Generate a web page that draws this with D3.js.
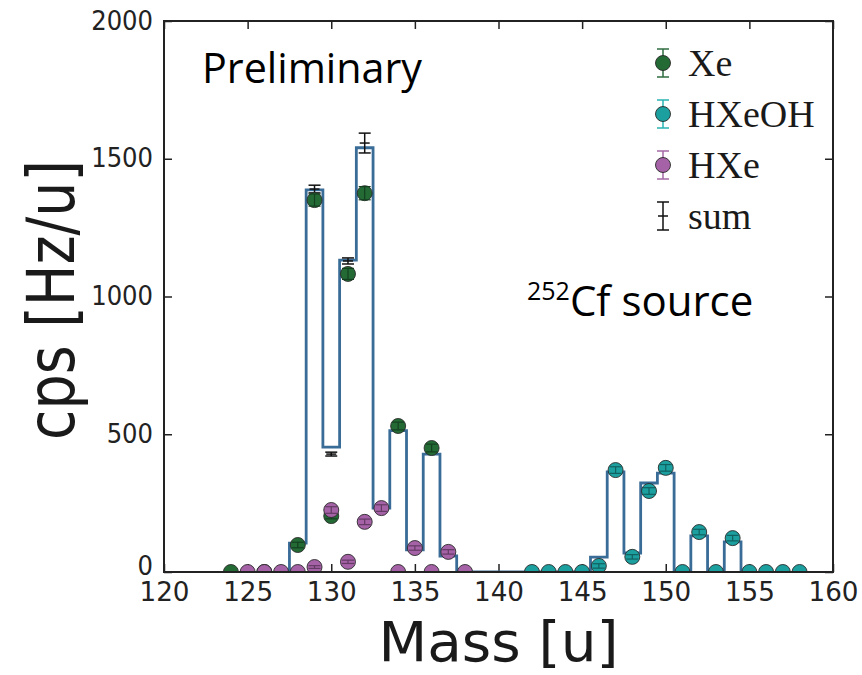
<!DOCTYPE html>
<html lang="en">
<head>
<meta charset="UTF-8">
<title>Mass spectrum</title>
<script src="https://d3js.org/d3.v7.min.js"></script>
<style>
  body { margin: 0; background: #fff; }
  .tick text { font-family: "DejaVu Sans Condensed", "DejaVu Sans", sans-serif; fill: #222; }
  .tick line { stroke: #222; stroke-width: 1.5px; }
</style>
</head>
<body>
<svg width="862" height="675"></svg>
<script>
// x ticks / y ticks
const xTicks = [120, 125, 130, 135, 140, 145, 150, 155, 160];
const yTicks = [0, 500, 1000, 1500, 2000];

// Xe isotopes
const xeMass = [124, 126, 128, 129, 130, 131, 132, 134, 136];
const xeVals = [0, 0, 98, 1350, 203, 1082, 1375, 530, 450];
const xeErr  = [0, 0, 10, 22, 10, 20, 24, 14, 14];

// HXeOH
const hxeohMass = [142, 143, 144, 145, 146, 147, 148, 149, 150, 151, 152, 153, 154, 155, 156, 157, 158];
const hxeohVals = [0, 0, 0, 0, 22, 370, 55, 294, 378, 0, 145, 0, 123, 0, 0, 0, 0];
const hxeohErr  = [0, 0, 0, 0, 8, 12, 8, 12, 12, 0, 10, 0, 10, 0, 0, 0, 0];

// HXe
const hxeMass = [125, 126, 127, 128, 129, 130, 131, 132, 133, 134, 135, 136, 137, 138];
const hxeVals = [0, 0, 0, 0, 18, 225, 37, 182, 232, 0, 87, 0, 73, 0];
const hxeErr  = [0, 0, 0, 0, 5, 12, 6, 10, 12, 0, 8, 0, 8, 0];

// sum histogram (step line)
const stepMass = [127, 128, 129, 130, 131, 132, 133, 134, 135, 136, 137, 138, 139, 140,
                  141, 142, 143, 144, 145, 146, 147, 148, 149, 150, 151, 152, 153, 154, 155];
const stepVals = [0, 105, 1387, 453, 1132, 1540, 232, 513, 80, 428, 58, 0, 0, 0,
                  0, 0, 0, 0, 0, 54, 363, 69, 323, 359, 0, 131, 0, 109, 0];

// sum error bars
const sumMass = [129, 130, 131, 132];
const sumPts  = [1390, 428, 1129, 1557];
const sumErr  = [14, 7, 11, 36];

const colXe = "#236a35", colOH = "#1c9f9f", colH = "#a562a6", colStep = "#3a6c98";

const svg = d3.select("svg");
const pL = 164, pR = 833, pT = 21, pB = 572;

const x = d3.scaleLinear().domain([120, 160]).range([pL, pR]);
const y = d3.scaleLinear().domain([0, 2000]).range([pB, pT]);

svg.append("rect").attr("width", 862).attr("height", 675).attr("fill", "#fff");

svg.append("clipPath").attr("id", "plot")
  .append("rect").attr("x", pL).attr("y", pT).attr("width", pR - pL).attr("height", pB - pT);

// axes, ticks inside
svg.append("g").attr("transform", `translate(${pL},0)`)
  .call(d3.axisLeft(y).tickValues(yTicks).tickFormat(d3.format("d")).tickSize(-8).tickPadding(11))
  .call(g => g.select(".domain").remove())
  .selectAll("text").attr("font-size", 27).attr("dy", d => d === 0 ? "0.1em" : "0.3em");
svg.append("g").attr("transform", `translate(0,${pB})`)
  .call(d3.axisBottom(x).tickValues(xTicks).tickFormat(d3.format("d")).tickSize(-8).tickPadding(10))
  .call(g => g.select(".domain").remove())
  .selectAll("text").attr("font-size", 27)
  .attr("textLength", 50).attr("lengthAdjust", "spacingAndGlyphs");
svg.append("g").attr("transform", `translate(${pR},0)`)
  .call(d3.axisRight(y).tickValues(yTicks).tickSize(-8).tickFormat(""))
  .call(g => g.select(".domain").remove());
svg.append("g").attr("transform", `translate(0,${pT})`)
  .call(d3.axisTop(x).tickValues(xTicks).tickSize(-8).tickFormat(""))
  .call(g => g.select(".domain").remove());

const plot = svg.append("g").attr("clip-path", "url(#plot)");

// step histogram
plot.append("path")
  .datum(stepMass.map((m, i) => [m, stepVals[i]]))
  .attr("fill", "none")
  .attr("stroke", colStep)
  .attr("stroke-width", 2.8)
  .attr("d", d3.line().x(d => x(d[0])).y(d => y(d[1])).curve(d3.curveStep));

// sum error bars
const sumG = plot.selectAll(".sum").data(sumMass).join("g").attr("class", "sum")
  .attr("stroke", "#111").attr("stroke-width", 1.5);
sumG.append("line").attr("x1", d => x(d)).attr("x2", d => x(d))
  .attr("y1", (d, i) => y(sumPts[i] - sumErr[i])).attr("y2", (d, i) => y(sumPts[i] + sumErr[i]));
[-1, 1].forEach(s => {
  sumG.append("line").attr("x1", d => x(d) - 6).attr("x2", d => x(d) + 6)
    .attr("y1", (d, i) => y(sumPts[i] + s * sumErr[i])).attr("y2", (d, i) => y(sumPts[i] + s * sumErr[i]));
});
sumG.append("line").attr("x1", d => x(d) - 5).attr("x2", d => x(d) + 5)
  .attr("y1", (d, i) => y(sumPts[i])).attr("y2", (d, i) => y(sumPts[i]));

function series(mass, vals, errs, color) {
  const g = plot.append("g");
  g.selectAll("circle").data(mass).join("circle")
    .attr("cx", d => x(d)).attr("cy", (d, i) => y(vals[i])).attr("r", 7.5)
    .attr("fill", color).attr("stroke", "#2a2a2a").attr("stroke-width", 0.9);
  const e = g.selectAll("g").data(mass).join("g")
    .attr("stroke", d3.color(color).darker(1.4)).attr("stroke-width", 1.2);
  e.append("line").attr("x1", d => x(d)).attr("x2", d => x(d))
    .attr("y1", (d, i) => y(vals[i] - errs[i])).attr("y2", (d, i) => y(vals[i] + errs[i]));
  [-1, 1].forEach(s => {
    e.append("line").attr("x1", d => x(d) - 6).attr("x2", d => x(d) + 6)
      .attr("y1", (d, i) => y(vals[i] + s * errs[i])).attr("y2", (d, i) => y(vals[i] + s * errs[i]));
  });
}
series(xeMass, xeVals, xeErr, colXe);
series(hxeohMass, hxeohVals, hxeohErr, colOH);
series(hxeMass, hxeVals, hxeErr, colH);

// frame
svg.append("rect").attr("x", pL).attr("y", pT).attr("width", pR - pL).attr("height", pB - pT)
  .attr("fill", "none").attr("stroke", "#222").attr("stroke-width", 2);

// axis labels
svg.append("text").attr("x", (pL + pR) / 2).attr("y", 661).attr("text-anchor", "middle")
  .attr("font-family", "DejaVu Sans Condensed, DejaVu Sans, sans-serif").attr("font-size", 56)
  .attr("textLength", 240).attr("lengthAdjust", "spacingAndGlyphs").attr("fill", "#1a1a1a")
  .text("Mass [u]");
svg.append("text").attr("transform", "translate(74,300) rotate(-90)").attr("text-anchor", "middle")
  .attr("font-family", "DejaVu Sans Condensed, DejaVu Sans, sans-serif").attr("font-size", 66)
  .attr("textLength", 280).attr("lengthAdjust", "spacingAndGlyphs").attr("fill", "#1a1a1a")
  .text("cps [Hz/u]");

// annotations
svg.append("text").attr("x", 202).attr("y", 83)
  .attr("font-family", "Open Sans, sans-serif").attr("font-size", 42)
  .attr("textLength", 220).attr("lengthAdjust", "spacingAndGlyphs").text("Preliminary");
const src = svg.append("text").attr("x", 527).attr("y", 316)
  .attr("font-family", "Open Sans, sans-serif").attr("font-size", 42);
src.append("tspan").attr("font-size", 25).attr("dy", -16).text("252");
src.append("tspan").attr("dy", 16).text("Cf source");

// legend
const legNames = ["Xe", "HXeOH", "HXe", "sum"];
const legCols = [colXe, colOH, colH, null];
const legBar = ["#2f6b3f", "#2ab3b3", "#a56aa6", "#111"];
const leg = svg.append("g").selectAll("g").data(legNames).join("g")
  .attr("transform", (d, i) => `translate(663,${63 + i * 51})`);
leg.append("line").attr("y1", -14).attr("y2", 14).attr("stroke", (d, i) => legBar[i]).attr("stroke-width", 1.5);
leg.append("line").attr("x1", -6).attr("x2", 6).attr("y1", -14).attr("y2", -14).attr("stroke", (d, i) => legBar[i]).attr("stroke-width", 1.5);
leg.append("line").attr("x1", -6).attr("x2", 6).attr("y1", 14).attr("y2", 14).attr("stroke", (d, i) => legBar[i]).attr("stroke-width", 1.5);
leg.filter((d, i) => legCols[i]).append("circle").attr("r", 7.5)
  .attr("fill", d => legCols[legNames.indexOf(d)]).attr("stroke", "#2a2a2a").attr("stroke-width", 0.9);
leg.filter(d => d === "sum").append("line").attr("x1", -5).attr("x2", 5).attr("stroke", "#111").attr("stroke-width", 1.5);
leg.append("text").attr("x", 25).attr("y", 13)
  .attr("font-family", "Liberation Serif, Times New Roman, serif").attr("font-size", 38).attr("fill", "#1a1a1a")
  .text(d => d);
</script>
</body>
</html>
